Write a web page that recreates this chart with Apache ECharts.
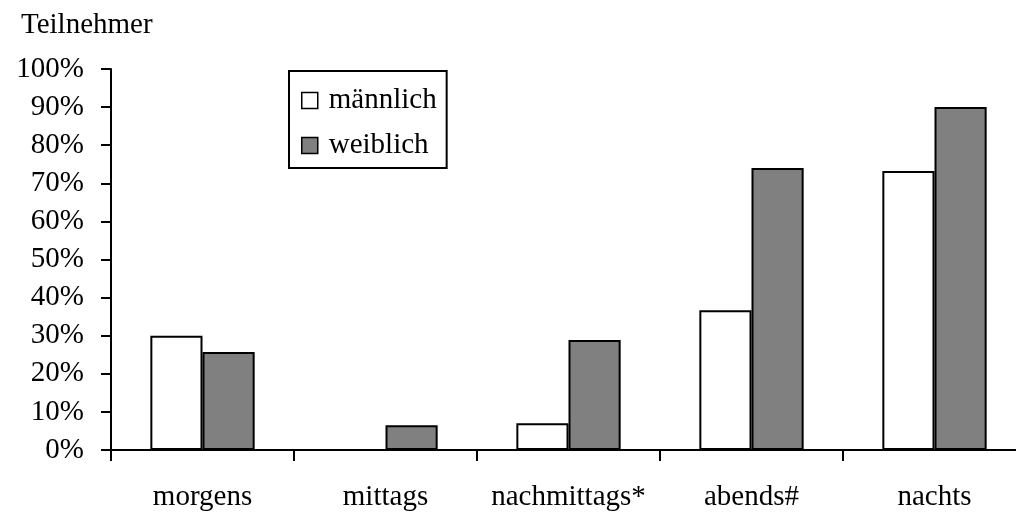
<!DOCTYPE html>
<html>
<head>
<meta charset="utf-8">
<script src="https://cdn.jsdelivr.net/npm/echarts@6/dist/echarts.min.js"></script>
<style>
  html, body { margin: 0; padding: 0; background: #fff; }
  #chart { width: 1016px; height: 512px; }
</style>
</head>
<body>
<div id="chart"></div>
<script>
// Tageszeiten und Anteile der Teilnehmer (%)
const categories = ["morgens", "mittags", "nachmittags*", "abends#", "nachts"];
const maennlich = [30, 0, 7, 36.7, 73.2];
const weiblich = [25.7, 6.5, 28.9, 74, 90];
const seriesNames = ["männlich", "weiblich"];

const font = "'Liberation Serif', 'DejaVu Serif', serif";

const chart = echarts.init(document.getElementById("chart"));
chart.setOption({
  animation: false,
  backgroundColor: "#fff",
  title: {
    text: "Teilnehmer",
    left: 16,
    top: 6,
    textStyle: { fontFamily: font, fontSize: 29, fontWeight: "normal", color: "#000" },
  },
  legend: {
    orient: "vertical",
    left: 289,
    top: 71,
    padding: [15, 10, 8, 12],
    itemGap: 16,
    itemWidth: 16,
    itemHeight: 16,
    borderColor: "#000",
    borderWidth: 2,
    icon: "rect",
    data: seriesNames,
    itemStyle: { borderColor: "#000", borderWidth: 1.5 },
    textStyle: { fontFamily: font, fontSize: 29, color: "#000", padding: [0, 0, 0, 6] },
  },
  grid: { left: 111, top: 69, bottom: 62, width: 915, outerBoundsMode: "none" },
  xAxis: {
    type: "category",
    data: categories,
    axisLine: { lineStyle: { color: "#000", width: 2 } },
    axisTick: { show: true, interval: 0, length: 11, lineStyle: { color: "#000", width: 2 } },
    axisLabel: { interval: 0, hideOverlap: false, fontFamily: font, fontSize: 29, color: "#000", margin: 33 },
  },
  yAxis: {
    type: "value",
    min: 0,
    max: 100,
    interval: 10,
    splitLine: { show: false },
    axisLine: { show: true, lineStyle: { color: "#000", width: 2 } },
    axisTick: { show: true, length: 10, lineStyle: { color: "#000", width: 2 } },
    axisLabel: { fontFamily: font, fontSize: 29, color: "#000", margin: 27, formatter: "{value}%" },
  },
  series: [
    {
      name: seriesNames[0],
      type: "bar",
      data: maennlich,
      barGap: "0%",
      barCategoryGap: "43%",
      itemStyle: { color: "#fff", borderColor: "#000", borderWidth: 2 },
    },
    {
      name: seriesNames[1],
      type: "bar",
      data: weiblich,
      itemStyle: { color: "#808080", borderColor: "#000", borderWidth: 2 },
    },
  ],
});
</script>
</body>
</html>
